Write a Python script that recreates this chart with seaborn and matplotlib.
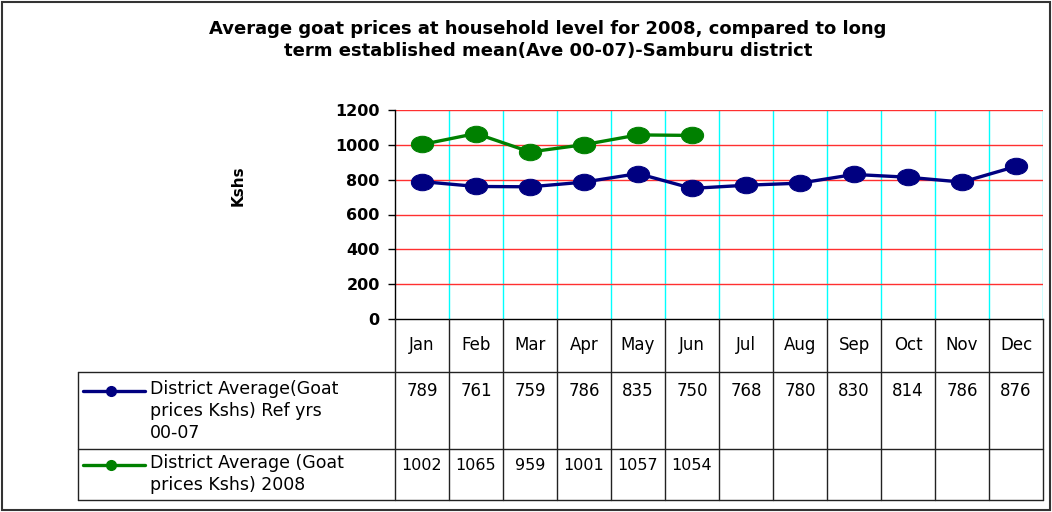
import matplotlib
matplotlib.use('Agg')
import matplotlib.pyplot as plt
from matplotlib.path import Path
from matplotlib.transforms import Affine2D
import seaborn as sns
import pandas as pd
import numpy as np

months = ['Jan', 'Feb', 'Mar', 'Apr', 'May', 'Jun', 'Jul', 'Aug', 'Sep', 'Oct', 'Nov', 'Dec']
ref_prices = [789, 761, 759, 786, 835, 750, 768, 780, 830, 814, 786, 876]
prices_2008 = [1002, 1065, 959, 1001, 1057, 1054]
ref_label = 'District Average(Goat\nprices Kshs) Ref yrs\n00-07'
label_2008 = 'District Average (Goat\nprices Kshs) 2008'

navy = '#000080'
green = '#008000'

sns.set_style('white')
plt.rcParams['font.family'] = ['DejaVu Sans']
plt.rcParams['text.color'] = 'black'
plt.rcParams['ytick.color'] = 'black'

W, H = 1052, 512
fig = plt.figure(figsize=(W / 100, H / 100), dpi=100)

# plot area
x0, x1, ytop, ybot = 395, 1043, 110, 319
colw = (x1 - x0) / len(months)
ax = fig.add_axes([x0 / W, 1 - ybot / H, (x1 - x0) / W, (ybot - ytop) / H])

df_ref = pd.DataFrame({'m': np.arange(len(ref_prices)), 'v': ref_prices})
df_08 = pd.DataFrame({'m': np.arange(len(prices_2008)), 'v': prices_2008})

# Excel draws its round markers slightly stretched
oval = Path.unit_circle().transformed(Affine2D().scale(1.35, 1.0))

for b in np.arange(0.5, 12, 1):
    ax.axvline(b, color='#00FFFF', lw=1, zorder=0)
for yv in range(200, 1201, 200):
    ax.axhline(yv, color='#FF3030', lw=1, zorder=0)

sns.lineplot(data=df_ref, x='m', y='v', ax=ax, color=navy, lw=2.4, marker=oval,
             markersize=16, markeredgecolor=navy, legend=False)
sns.lineplot(data=df_08, x='m', y='v', ax=ax, color=green, lw=2.4, marker=oval,
             markersize=16, markeredgecolor=green, legend=False)

ax.set_xlim(-0.5, 11.5)
ax.set_ylim(0, 1200)
ax.set_yticks(range(0, 1201, 200))
ax.set_xticks([])
ax.set_xlabel('')
ax.set_ylabel('')
for t in ax.get_yticklabels():
    t.set_fontweight('bold')
    t.set_fontsize(11.5)
    t.set_color('black')
ax.tick_params(axis='y', length=5, width=1, color='black', direction='out', pad=6, left=True)
for s in ['top', 'right']:
    ax.spines[s].set_visible(False)
for s in ['left', 'bottom']:
    ax.spines[s].set_color('black')
    ax.spines[s].set_linewidth(1)

# overlay in pixel coordinates for title, labels and data table
ov = fig.add_axes([0, 0, 1, 1], zorder=-1)
ov.set_xlim(0, W)
ov.set_ylim(H, 0)
ov.axis('off')

ov.add_patch(plt.Rectangle((2, 2), W - 4, H - 4, fill=False, edgecolor='#333333', lw=1.5))
ov.text(548, 40, 'Average goat prices at household level for 2008, compared to long\n'
        'term established mean(Ave 00-07)-Samburu district',
        ha='center', va='center', fontsize=13, fontweight='bold', linespacing=1.3)
ov.text(238, 186, 'Kshs', rotation=90, ha='center', va='center', fontsize=11, fontweight='bold')

tx = fig.add_axes([0, 0, 1, 1], zorder=5)
tx.set_xlim(0, W)
tx.set_ylim(H, 0)
tx.axis('off')
tx.patch.set_alpha(0)

lc = '#222222'
r0, r1, r2, r3 = 319, 372, 449, 500
for k in range(len(months) + 1):
    tx.plot([x0 + k * colw] * 2, [r0, r3], color=lc, lw=1)
for yy in [r1, r2, r3]:
    tx.plot([78, x1], [yy, yy], color=lc, lw=1)
tx.plot([78, 78], [r1, r3], color=lc, lw=1)

for i, m in enumerate(months):
    tx.text(x0 + (i + 0.5) * colw, 345, m, ha='center', va='center', fontsize=12)
for i, v in enumerate(ref_prices):
    tx.text(x0 + (i + 0.5) * colw, 391, str(v), ha='center', va='center', fontsize=12)
for i, v in enumerate(prices_2008):
    tx.text(x0 + (i + 0.5) * colw, 465, str(v), ha='center', va='center', fontsize=11.5)

tx.plot([83, 145], [391, 391], color=navy, lw=2.4)
tx.plot([111], [391], marker='o', color=navy, markersize=7)
tx.plot([83, 145], [465, 465], color=green, lw=2.4)
tx.plot([111], [465], marker='o', color=green, markersize=7)
tx.text(150, 380, ref_label, ha='left', va='top', fontsize=12.5, linespacing=1.3)
tx.text(150, 454, label_2008, ha='left', va='top', fontsize=12.5, linespacing=1.3)

fig.savefig('out.png', dpi=100)
